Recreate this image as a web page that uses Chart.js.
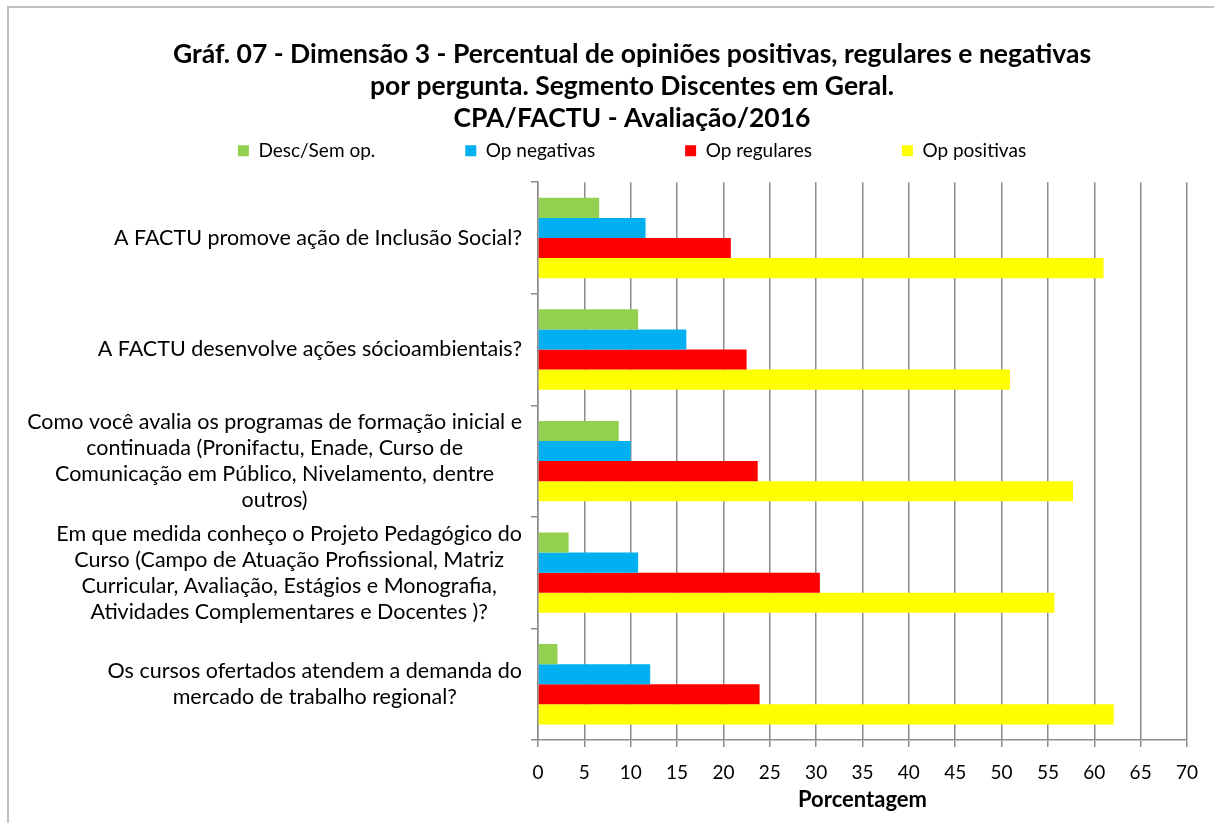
<!DOCTYPE html>
<html lang="pt">
  <head>
    <meta charset="UTF-8" />
    <title>Gráf. 07 - Dimensão 3</title>
    <script src="https://cdn.jsdelivr.net/npm/chart.js@4.4.0/dist/chart.umd.min.js"></script>
    <style>
      body {
        margin: 0;
        background: #fff;
      }
      .frame {
        position: absolute;
        left: 7px;
        top: 6px;
        width: 1220px;
        height: 840px;
        border-left: 2px solid #c0c0c0;
        border-top: 2px solid #c0c0c0;
      }
      .chart-box {
        position: absolute;
        left: 0;
        top: 0;
        width: 1214px;
        height: 823px;
      }
    </style>
  </head>
  <body>
    <div class="frame"></div>
    <div class="chart-box">
      <canvas id="grafico"></canvas>
    </div>

    <script>
      const perguntas = [
        ["A FACTU promove ação de Inclusão Social?"],
        ["A FACTU desenvolve ações sócioambientais?"],
        [
          "Como você avalia os programas de formação inicial e",
          "continuada (Pronifactu, Enade, Curso de",
          "Comunicação em Público, Nivelamento, dentre",
          "outros)"
        ],
        [
          "Em que medida conheço o Projeto Pedagógico do",
          "Curso (Campo de Atuação Profissional, Matriz",
          "Curricular, Avaliação, Estágios e Monografia,",
          "Atividades Complementares e Docentes )?"
        ],
        ["Os cursos ofertados atendem a demanda do", "mercado de trabalho regional?"]
      ];

      const descSemOp = [6.6, 10.8, 8.7, 3.3, 2.1];
      const opNegativas = [11.6, 16.0, 10.0, 10.8, 12.1];
      const opRegulares = [20.8, 22.5, 23.7, 30.4, 23.9];
      const opPositivas = [61.0, 50.9, 57.7, 55.7, 62.1];

      const eixoMin = 0;
      const eixoMax = 70;
      const eixoPasso = 5;

      const fonte = "Lato, 'Open Sans', sans-serif";
      const cinza = "#8c8c8c";

      // rótulos do eixo y: bloco alinhado à direita, linhas centradas
      const rotulosY = {
        id: "rotulosY",
        afterDraw(chart) {
          const ctx = chart.ctx;
          const y = chart.scales.y;
          const alturaLinha = 26;
          ctx.save();
          ctx.font = "21.5px " + fonte;
          ctx.fillStyle = "#000";
          ctx.textAlign = "center";
          ctx.textBaseline = "middle";
          perguntas.forEach((linhas, i) => {
            const w = Math.max(...linhas.map((l) => ctx.measureText(l).width));
            const cx = y.right - 16 - w / 2;
            const cy = y.getPixelForValue(i);
            linhas.forEach((l, k) => {
              ctx.fillText(l, cx, cy + (k - (linhas.length - 1) / 2) * alturaLinha);
            });
          });
          ctx.restore();
        }
      };

      new Chart(document.getElementById("grafico"), {
        type: "bar",
        data: {
          labels: perguntas,
          datasets: [
            { label: "Desc/Sem op.", data: descSemOp, backgroundColor: "#92D050" },
            { label: "Op negativas", data: opNegativas, backgroundColor: "#00B0F0" },
            { label: "Op regulares", data: opRegulares, backgroundColor: "#FF0000" },
            { label: "Op positivas", data: opPositivas, backgroundColor: "#FFFF00" }
          ]
        },
        options: {
          indexAxis: "y",
          responsive: true,
          maintainAspectRatio: false,
          animation: false,
          categoryPercentage: 0.72,
          barPercentage: 1.0,
          layout: { padding: { top: 38, right: 27, bottom: 0, left: 77 } },
          plugins: {
            title: {
              display: true,
              text: [
                "Gráf. 07 - Dimensão 3 - Percentual de opiniões positivas, regulares e negativas",
                "por pergunta. Segmento Discentes em Geral.",
                "CPA/FACTU - Avaliação/2016"
              ],
              color: "#000",
              font: { family: fonte, size: 26.5, weight: "bold", lineHeight: 1.21 },
              padding: { top: 0, bottom: -83 }
            },
            legend: {
              position: "top",
              labels: {
                color: "#000",
                font: { family: fonte, size: 19 },
                boxWidth: 11,
                boxHeight: 11,
                padding: 90
              }
            },
            tooltip: { enabled: false }
          },
          scales: {
            x: {
              min: eixoMin,
              max: eixoMax,
              ticks: {
                stepSize: eixoPasso,
                color: "#000",
                font: { family: fonte, size: 19 },
                padding: 14
              },
              grid: { color: cinza, lineWidth: 1.5, tickLength: 7 },
              border: { color: cinza, width: 1.5 },
              title: {
                display: true,
                text: "Porcentagem",
                color: "#000",
                font: { family: fonte, size: 22, weight: "bold" },
                padding: { top: 4, bottom: 10 }
              },
              afterFit(scale) {
                scale.height = 83;
              }
            },
            // eixo vazio só para abrir espaço entre a legenda e a área do gráfico
            espaco: {
              type: "linear",
              position: "top",
              ticks: { display: false },
              grid: { display: false },
              border: { display: false },
              afterFit(scale) {
                scale.height = 12;
              }
            },
            y: {
              ticks: { display: false },
              grid: { drawOnChartArea: false, color: cinza, lineWidth: 1.5, tickLength: 7, offset: true },
              border: { color: cinza, width: 1.5 },
              afterFit(scale) {
                scale.width = 461;
              }
            }
          }
        },
        plugins: [rotulosY]
      });
    </script>
  </body>
</html>
